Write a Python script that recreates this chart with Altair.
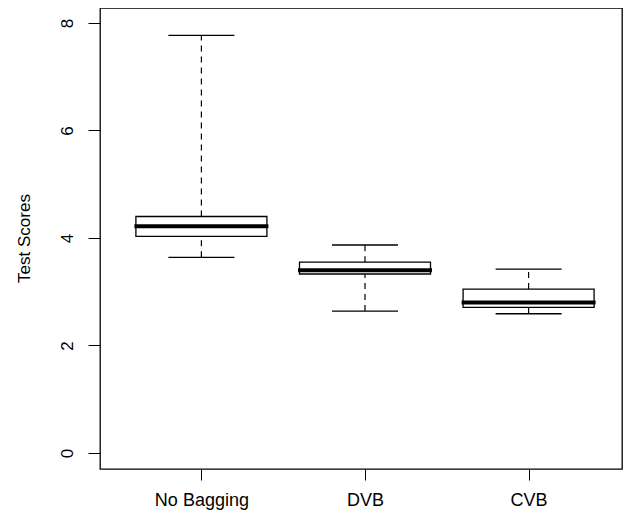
import altair as alt
import pandas as pd

groups = ["No Bagging", "DVB", "CVB"]
lower = [3.64, 2.64, 2.59]
q1 = [4.03, 3.33, 2.71]
median = [4.22, 3.40, 2.80]
q3 = [4.40, 3.55, 3.05]
upper = [7.77, 3.87, 3.42]
y_ticks = [0, 2, 4, 6, 8]

df = pd.DataFrame({"group": groups, "lower": lower, "q1": q1,
                   "median": median, "q3": q3, "upper": upper})

FONT = "Liberation Sans"

x = alt.X("group:N", sort=groups,
          scale=alt.Scale(type="point", padding=0.5954, align=0.5205, domain=groups),
          axis=alt.Axis(title=None, domain=False, tickSize=11, tickColor="black",
                        labelFontSize=18, labelColor="black", labelFont=FONT,
                        labelPadding=11, labelAngle=0, grid=False))
yscale = alt.Scale(domain=[-0.298, 8.279], nice=False, zero=False)

base = alt.Chart(df)

upper_whisker = base.mark_rule(color="black", strokeWidth=1.2, strokeDash=[6, 5]).encode(
    x=x,
    y=alt.Y("q3:Q", scale=yscale,
            axis=alt.Axis(values=y_ticks, title="Test Scores", domain=False, grid=False,
                          tickSize=12, tickColor="black", labelAngle=270,
                          labelAlign="center", labelBaseline="middle", labelPadding=21,
                          labelFontSize=17, labelColor="black", labelFont=FONT,
                          titleFontSize=17, titleFont=FONT, titleColor="black",
                          titleFontWeight="normal", titleAngle=270, titleX=-76, titleY=230,
                          titleAlign="center", titleBaseline="middle")),
    y2="upper:Q")
lower_whisker = base.mark_rule(color="black", strokeWidth=1.2, strokeDash=[6, 5]).encode(
    x=x, y=alt.Y("lower:Q", scale=yscale), y2="q1:Q")
staple_hi = base.mark_tick(color="black", size=66, thickness=1.3, opacity=1).encode(
    x=x, y=alt.Y("upper:Q", scale=yscale))
staple_lo = base.mark_tick(color="black", size=66, thickness=1.3, opacity=1).encode(
    x=x, y=alt.Y("lower:Q", scale=yscale))
box = base.mark_bar(fill="white", stroke="black", strokeWidth=1.3, size=131, opacity=1).encode(
    x=x, y=alt.Y("q1:Q", scale=yscale), y2="q3:Q")
med = base.mark_tick(color="black", size=134, thickness=4, opacity=1).encode(
    x=x, y=alt.Y("median:Q", scale=yscale))

chart = alt.layer(upper_whisker, lower_whisker, staple_hi, staple_lo, box, med).properties(
    width=522, height=461,
    autosize=alt.AutoSizeParams(type="none"),
    padding={"left": 92, "top": 0, "right": 1, "bottom": 43},
    background="white",
).configure_view(stroke="black", strokeWidth=1.3)

chart.save("out.html", embed_options={"renderer": "svg", "actions": False})
